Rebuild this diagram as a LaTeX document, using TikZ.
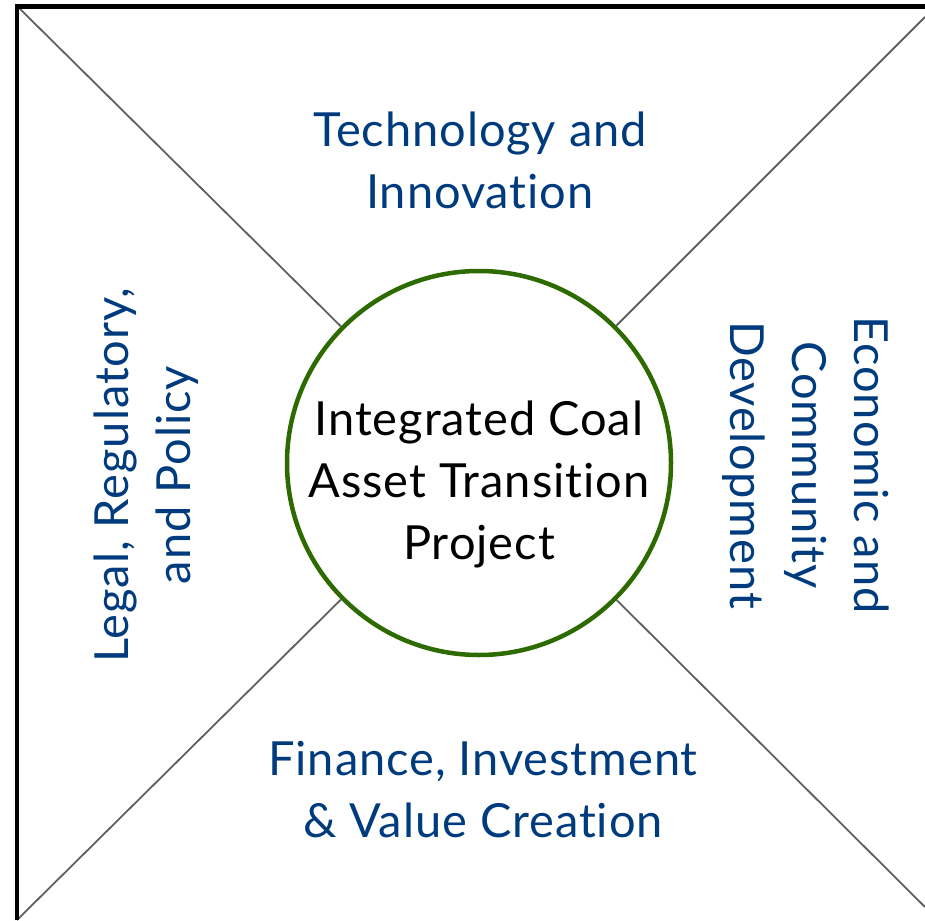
\documentclass[tikz,border=0pt]{standalone}
\usepackage{fontspec}
\setmainfont{Lato}[Ligatures={NoCommon,NoContextual}, LetterSpace=2]
\definecolor{theme}{HTML}{003B7E}
\definecolor{ring}{HTML}{2D6A00}
\definecolor{spoke}{HTML}{606060}
\tikzset{
    %Define style for the outer frame
    frame/.style={
        draw=black,
        line width=4.5pt
    },
    %Define style for the diagonals
    spokeline/.style={
        draw=spoke,
        line width=1.8pt
    },
    %Define style for the central circle
    core/.style={
        circle,
        draw=ring,
        line width=4.5pt,
        minimum size=384pt,
        inner sep=0pt
    },
    %Define style for the four areas
    area/.style={
        text=theme,
        align=center,
        inner sep=0pt,
        font=\fontsize{47}{62}\selectfont
    },
    coretext/.style={
        area,
        text=black
    },
}

\begin{document}
\begin{tikzpicture}[x=1pt,y=-1pt]
\useasboundingbox (0,0) rectangle (925,920);
%corners
\coordinate (tl) at (17,6);
\coordinate (tr) at (925,17);
\coordinate (bl) at (17,920);
\coordinate (br) at (925,907);
%nodes
\node[core](c) at (479,463){};
\node[coretext](ct) at (479,484){Integrated Coal\\Asset Transition\\Project};
\node[area](tech) at (480,160){Technology and\\Innovation};
\node[area](fin) at (483,790){Finance, Investment\\\& Value Creation};
\node[area, rotate=90](legal) at (146,475){Legal, Regulatory,\\and Policy};
\node[area, rotate=-90](econ) at (806,465){Economic and\\Community\\Development};
%lines
\path[spokeline]
(tl) edge (c)
(tr) edge (c)
(bl) edge (c)
(br) edge (c);
\draw[frame] (bl) |- (925,6.5);
\end{tikzpicture}
\end{document}
